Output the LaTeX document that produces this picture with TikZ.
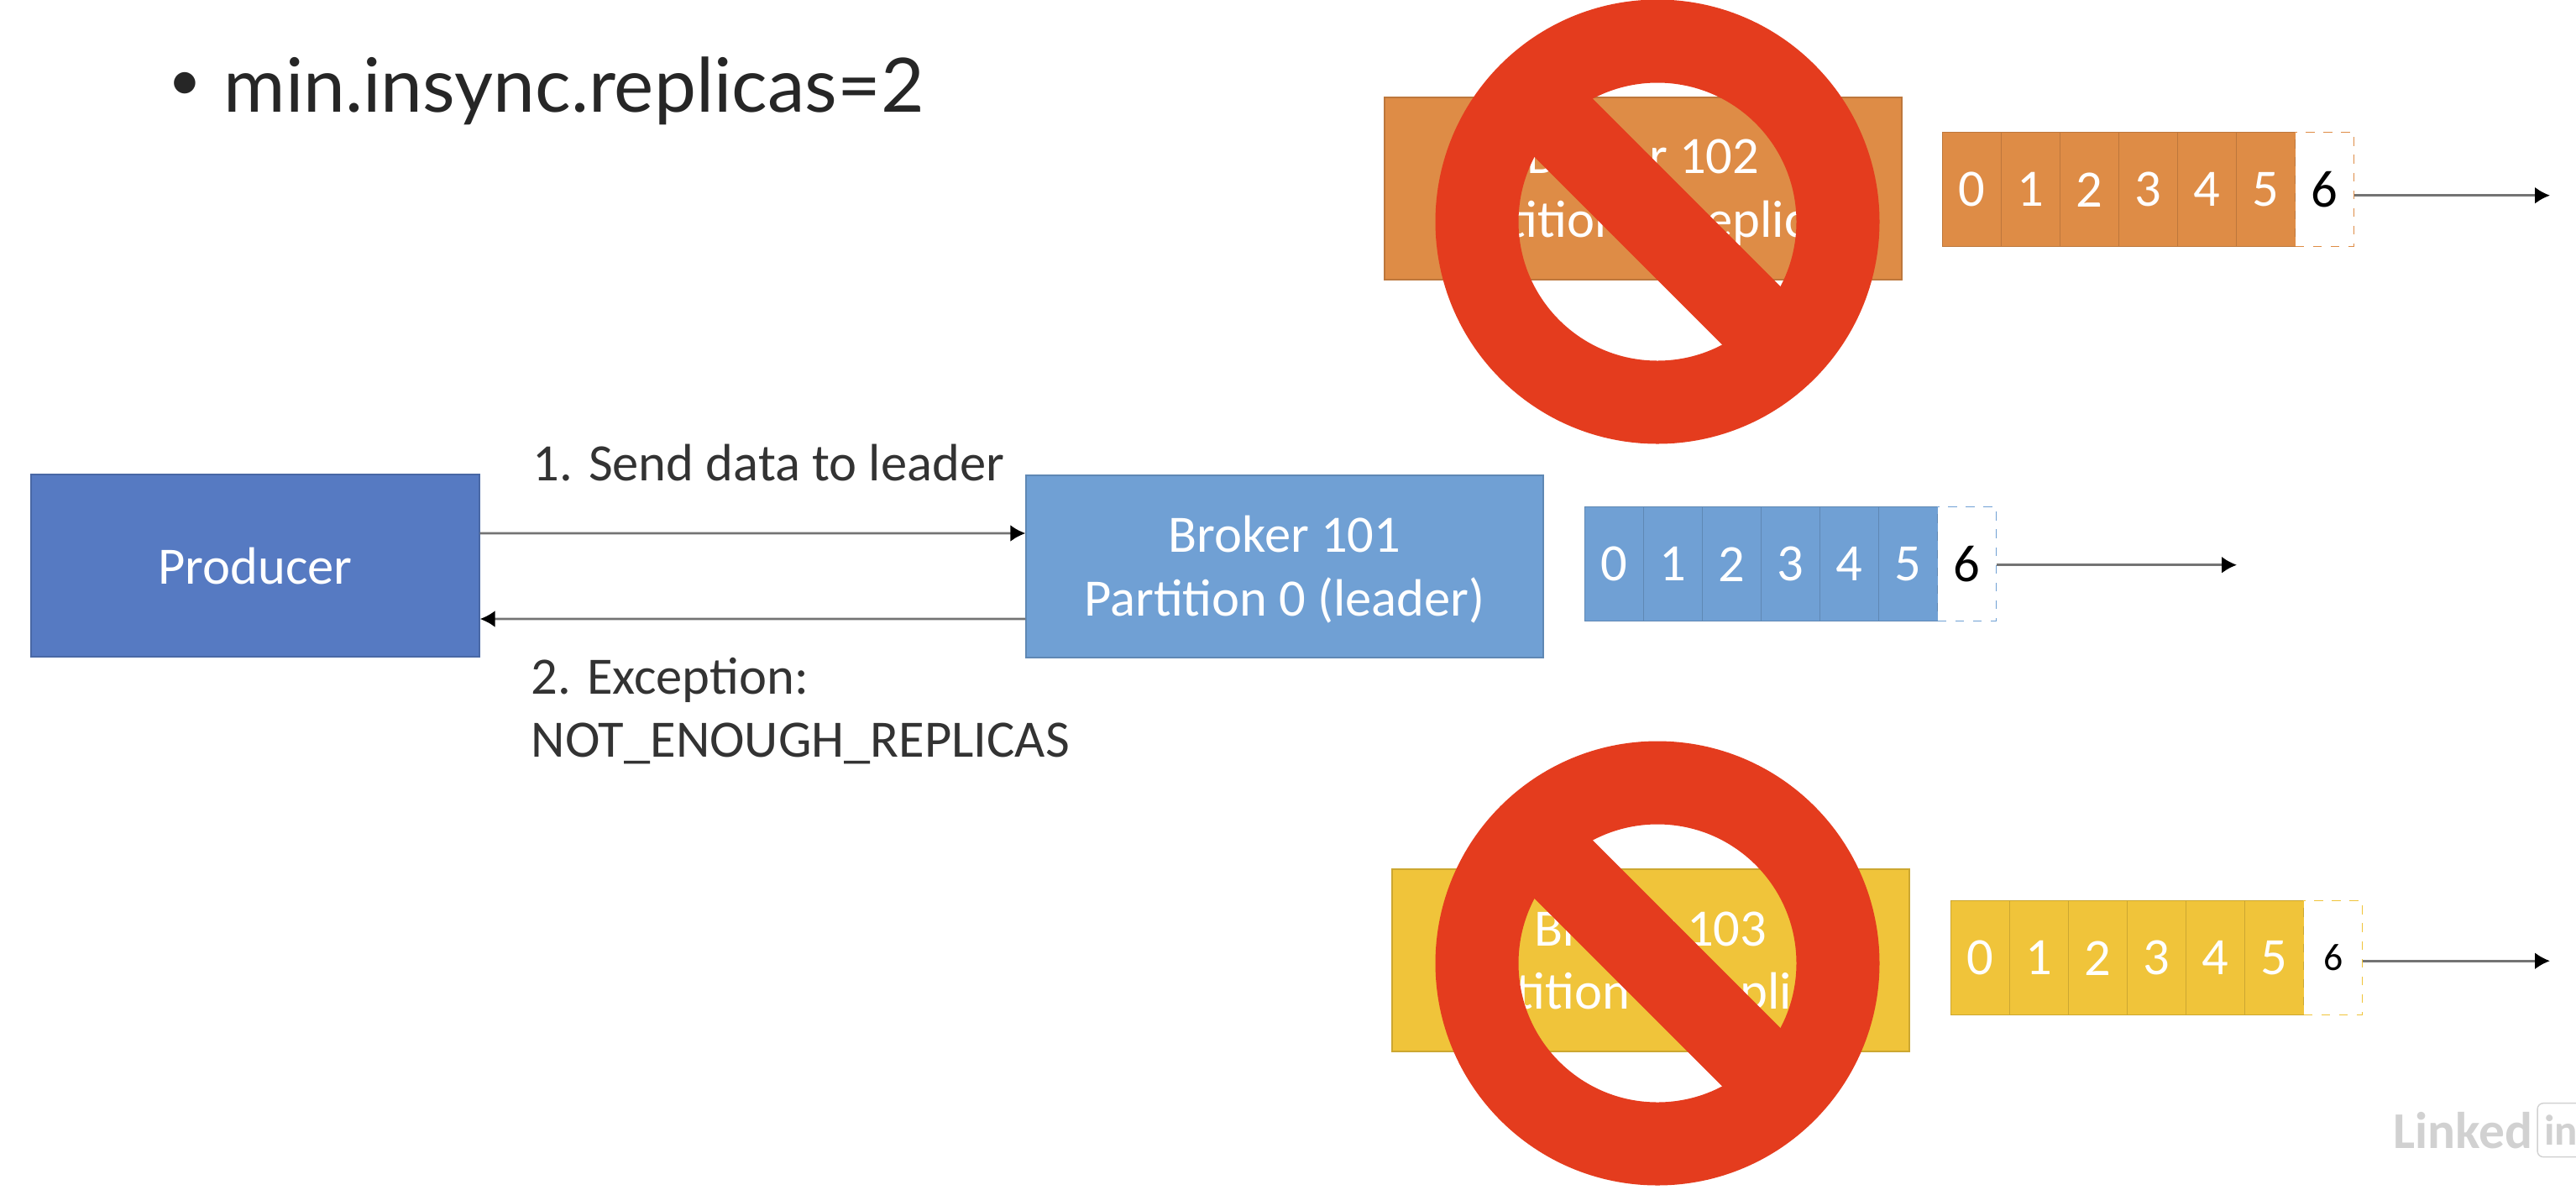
\documentclass[tikz,border=0pt]{standalone}
\usepackage{fontspec}
\setmainfont{Carlito}
\newfontfamily\titlefont{Lato}
\usetikzlibrary{arrows.meta, positioning}
\definecolor{producercolor}{RGB}{86, 122, 194}
\definecolor{leadercolor}{RGB}{112, 160, 212}
\definecolor{orangecolor}{RGB}{222, 140, 70}
\definecolor{yellowcolor}{RGB}{240, 196, 58}
\definecolor{bancolor}{RGB}{228, 60, 30}
\newcommand{\toprule}{\rule{0pt}{14.5pt}}
\tikzset{
    labeltext/.style={font=\fontsize{17.8}{21.3}\selectfont, text=black!80, inner sep=0pt},
    brokerbox/.style={minimum width=6.16cm, minimum height=2.17cm, inner sep=0pt, text=white, align=center,
        font=\fontsize{17.8}{21.6}\selectfont},
    logcell/.style={minimum width=0.7cm, minimum height=1.36cm, inner sep=0pt, anchor=north west,
        text=white, font=\fontsize{17.8}{21.3}\selectfont, line width=0.4pt},
    bansign/.style={circle, draw=bancolor, line width=0.99cm, minimum size=4.30cm, inner sep=0pt, outer sep=0pt},
    banbar/.style={draw=bancolor, line width=0.98cm},
    sendarrow/.style={-{Latex[black, length=0.18cm, width=0.2cm]}, draw=black!55, line width=0.8pt},
    watermark/.style={font=\bfseries\fontsize{17.5}{20}\selectfont, text=black!18}
}

\begin{document}
\begin{tikzpicture}
    \useasboundingbox (0, 0) rectangle (30.68, -14.16);

    % Title
    \node[anchor=base west, inner sep=0pt, font=\titlefont\fontsize{25.4}{30}\selectfont, text=black!85] (title)
        at (2.00, -1.33) {\makebox[0.66cm][l]{\raisebox{0.14cm}{\fontsize{19.5}{20}\selectfont •}}min.insync.replicas=2};

    % Producer and brokers
    \node[brokerbox, minimum width=5.34cm, fill=producercolor, draw=producercolor!85!black] (producer)
        at (3.04, -6.735) {Producer};
    \node[brokerbox, fill=leadercolor, draw=leadercolor!85!black] (broker101)
        at (15.30, -6.745) {\toprule Broker 101\\Partition 0 (leader)};
    \node[brokerbox, fill=orangecolor, draw=orangecolor!85!black] (broker102)
        at (19.57, -2.245) {\toprule Broker 102\\Partition 0 (replica)};
    \node[brokerbox, fill=yellowcolor, draw=yellowcolor!85!black] (broker103)
        at (19.66, -11.435) {\toprule Broker 103\\Partition 0 (replica)};

    % Logs with the new message
    \foreach \logname/\logx/\logy/\logcolor/\sixsize/\logend/\logdrop in {
        leaderlog/18.87/-6.03/leadercolor/17.8/26.64/0.01,
        orangelog/23.13/-1.57/orangecolor/17.8/30.37/0.07,
        yellowlog/23.23/-10.72/yellowcolor/13/30.37/0.035} {
        \foreach \i in {0,...,5} {
            \node[logcell, fill=\logcolor, draw=\logcolor!85!black] (\logname\i)
                at ({\logx+0.7*\i}, \logy) {\i};
        }
        \node[logcell, draw=\logcolor, dashed, text=black, font=\fontsize{\sixsize}{21.3}\selectfont] (\logname6)
            at ({\logx+0.7*6}, \logy) {6};
        \coordinate (\logname start) at ([yshift=-\logdrop cm]\logname6.east);
        \coordinate (\logname end) at (\logend, 0 |- \logname start);
        \draw[sendarrow] (\logname start) -- (\logname end);
    }

    % Ban signs over the two lost brokers
    \node[bansign] (ban102) at (19.74, -2.64) {};
    \draw[banbar] (ban102.north west) -- (ban102.south east);
    \node[bansign] (ban103) at (19.74, -11.47) {};
    \draw[banbar] (ban103.north west) -- (ban103.south east);

    % Send and exception arrows
    \draw[sendarrow] ([yshift=0.385cm]producer.east) -- ([yshift=0.395cm]broker101.west);
    \draw[sendarrow] ([yshift=-0.625cm]broker101.west) -- ([yshift=-0.635cm]producer.east);

    % Add labels
    \node[labeltext, anchor=base west] (sendlabel) at (6.34, -5.72) {1. Send data to leader};
    \node[labeltext, anchor=north west, align=left] (exceptionlabel) at (6.32, -7.83)
        {2. Exception:\\NOT\_ENOUGH\_REPLICAS};

    % Watermark
    \node[watermark, anchor=base west, inner sep=0pt] (linked) at (28.50, -13.67) {Linked};
    \node[watermark, right=0.04cm of linked, draw=black!18, rounded corners=2pt, inner ysep=0pt, inner xsep=0.08cm,
        text width=0.7cm, align=left, minimum height=0.64cm, font=\bfseries\fontsize{14.5}{16}\selectfont] (linkedin) {in};
\end{tikzpicture}
\end{document}
